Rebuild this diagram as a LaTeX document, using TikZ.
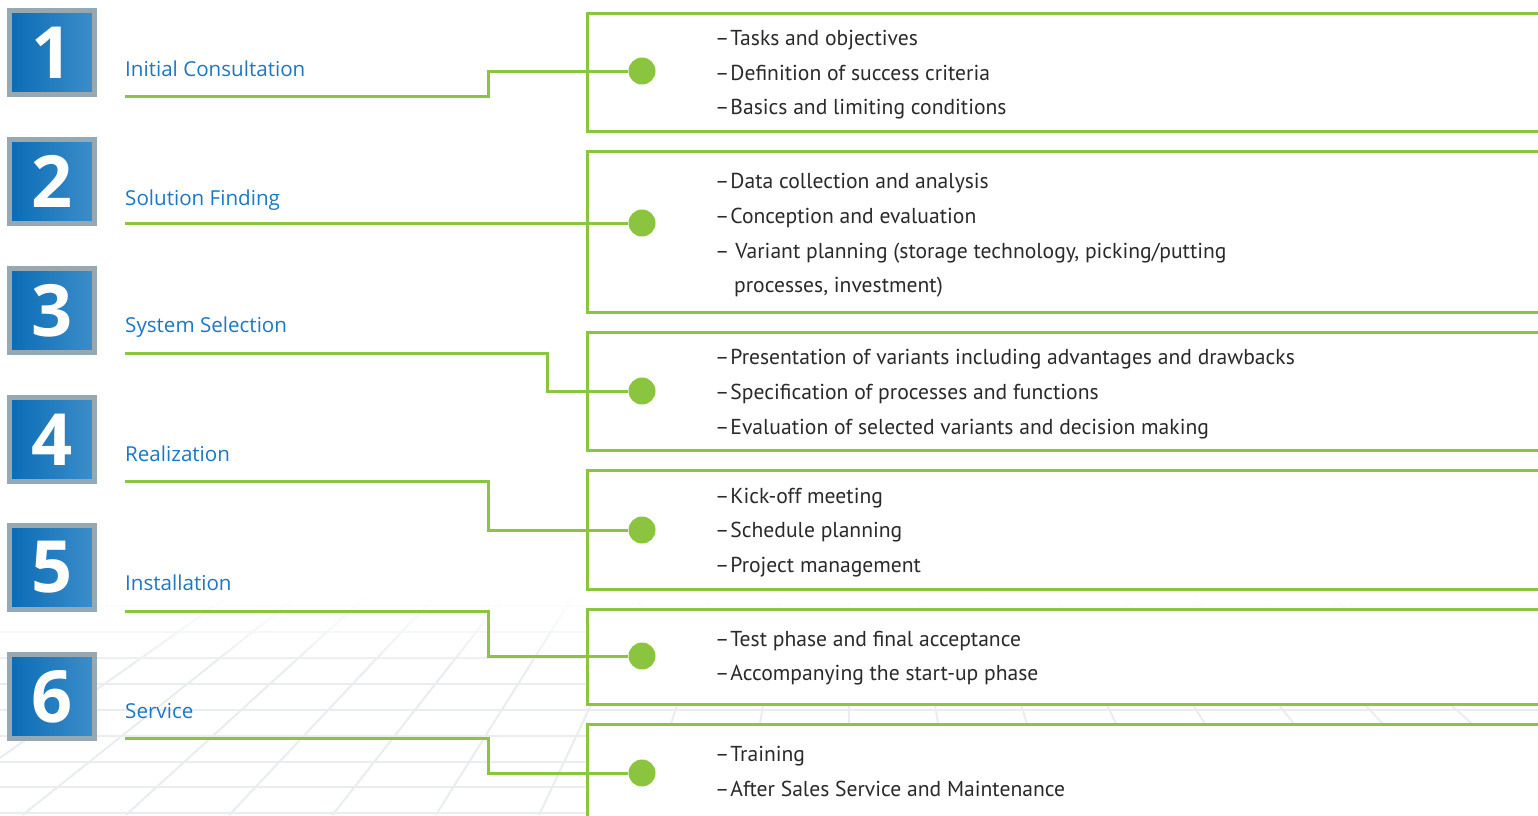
\documentclass[tikz,border=0pt]{standalone}
\usepackage{fontspec}
\setmainfont{PT Sans}
\newfontfamily\labfont{Open Sans}
\usetikzlibrary{fadings}
\definecolor{grn}{HTML}{8BC53F}
\definecolor{sqgray}{HTML}{96A9B3}
\definecolor{blA}{HTML}{0A6CB5}
\definecolor{blB}{HTML}{3D8ECA}
\definecolor{labblue}{HTML}{1C78C1}
\definecolor{txt}{HTML}{2A2A2A}
\definecolor{gridc}{HTML}{EAEDEF}
\tikzset{
  numsq/.style={draw=sqgray, line width=5pt, minimum width=85pt, minimum height=84pt, inner sep=0pt,
    left color=blA, right color=blB, shading angle=90, text=white,
    font=\labfont\bfseries\fontsize{72}{72}\selectfont},
  lab/.style={anchor=base west, inner sep=0pt, text=labblue, font=\labfont\fontsize{20.6}{24}\selectfont},
  item/.style={anchor=base west, inner sep=0pt, text=txt, font=\fontsize{21.6}{26}\selectfont},
  infobox/.style={draw=grn, line width=3pt, fill=white, anchor=north west, minimum width=1000pt, inner sep=0pt},
  dot/.style={circle, fill=grn, minimum size=27pt, inner sep=0pt},
  conn/.style={draw=grn, line width=3pt},
  gridline/.style={draw=gridc, line width=2pt}
}
\begin{document}
\begin{tikzpicture}[x=1pt,y=-1pt]
\useasboundingbox (0,0) rectangle (1538,815);
\clip (0,0) rectangle (1538,815);
\fill[white] (0,0) rectangle (1538,815);
% background grid
\begin{scope}
  \clip (0,598) rectangle (1538,815);
  \foreach \k in {-9,...,7}
    \draw[gridline] (849,157) -- ({849+103.3*\k},815);
  \foreach \j in {-1,...,7}
    \draw[gridline] (0,{632+25.9*\j}) -- (1538,{632+25.9*\j});
\end{scope}
\fill[white, path fading=south] (0,596) rectangle (1538,668);
% boxes
\node[infobox, minimum height=118pt] (box1) at (586,12) {};
\node[infobox, minimum height=161pt] (box2) at (586,150) {};
\node[infobox, minimum height=118pt] (box3) at (586,331) {};
\node[infobox, minimum height=119pt] (box4) at (586,469) {};
\node[infobox, minimum height=95pt] (box5) at (586,608) {};
\node[infobox, minimum height=140pt] (box6) at (586,723) {};
% number squares
\node[numsq] (n1) at (52,52.5) {1};
\node[numsq] (n2) at (52,181.5) {2};
\node[numsq] (n3) at (52,310.5) {3};
\node[numsq] (n4) at (52,439.5) {4};
\node[numsq] (n5) at (52,567.5) {5};
\node[numsq] (n6) at (52,696.5) {6};
% labels
\node[lab] (l1) at (125,76) {Initial Consultation};
\node[lab] (l2) at (125,205) {Solution Finding};
\node[lab] (l3) at (125,332) {System Selection};
\node[lab] (l4) at (125,461) {Realization};
\node[lab] (l5) at (125,590) {Installation};
\node[lab] (l6) at (125,718) {Service};
% items
\node[item] (t11) at (715,45) {–\kern1pt Tasks and objectives};
\node[item] (t12) at (715,80) {–\kern1pt Definition of success criteria};
\node[item] (t13) at (715,114) {–\kern1pt Basics and limiting conditions};
\node[item] (t21) at (715,188) {–\kern1pt Data collection and analysis};
\node[item] (t22) at (715,223) {–\kern1pt Conception and evaluation};
\node[item] (t23) at (715,258) {–\kern6pt Variant planning (storage technology, picking/putting};
\node[item] (t24) at (734,292) {processes, investment)};
\node[item] (t31) at (715,364) {–\kern1pt Presentation of variants including advantages and drawbacks};
\node[item] (t32) at (715,399) {–\kern1pt Specification of processes and functions};
\node[item] (t33) at (715,434) {–\kern1pt Evaluation of selected variants and decision making};
\node[item] (t41) at (715,503) {–\kern1pt Kick-off meeting};
\node[item] (t42) at (715,537) {–\kern1pt Schedule planning};
\node[item] (t43) at (715,572) {–\kern1pt Project management};
\node[item] (t51) at (715,646) {–\kern1pt Test phase and final acceptance};
\node[item] (t52) at (715,680) {–\kern1pt Accompanying the start-up phase};
\node[item] (t61) at (715,761) {–\kern1pt Training};
\node[item] (t62) at (715,796) {–\kern1pt After Sales Service and Maintenance};
% dots
\node[dot] (d1) at (642,71) {};
\node[dot] (d2) at (642,223) {};
\node[dot] (d3) at (642,391) {};
\node[dot] (d4) at (642,530) {};
\node[dot] (d5) at (642,656) {};
\node[dot] (d6) at (642,773) {};
% connector start points
\coordinate (u1) at (125,96);
\coordinate (u2) at (125,223);
\coordinate (u3) at (125,353);
\coordinate (u4) at (125,481);
\coordinate (u5) at (125,611);
\coordinate (u6) at (125,738);
\draw[conn] (u1) -- ++(363,0) |- (d1.west);
\draw[conn] (u2) -- (d2.west);
\draw[conn] (u3) -- ++(422,0) |- (d3.west);
\draw[conn] (u4) -- ++(363,0) |- (d4.west);
\draw[conn] (u5) -- ++(363,0) |- (d5.west);
\draw[conn] (u6) -- ++(363,0) |- (d6.west);
\end{tikzpicture}
\end{document}
